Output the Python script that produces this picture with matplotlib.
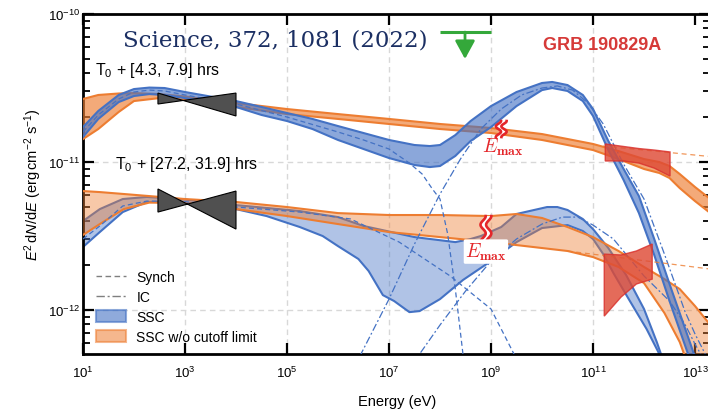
import numpy as np
import matplotlib
matplotlib.use('Agg')
import matplotlib.pyplot as plt
from matplotlib.patches import Patch
from matplotlib.lines import Line2D
import matplotlib.transforms as mtransforms

plt.rcParams['font.family'] = ['Liberation Sans', 'DejaVu Sans']
plt.rcParams['mathtext.fontset'] = 'custom'
plt.rcParams['mathtext.rm'] = 'Liberation Sans'
plt.rcParams['mathtext.it'] = 'Liberation Sans:italic'
plt.rcParams['mathtext.bf'] = 'Liberation Sans:bold'

# ---------------- data: log10(E / eV), log10(E^2 dN/dE / erg cm^-2 s^-1) ----------------
# Epoch 1: T0 + [4.3, 7.9] hrs
UO_E  = [1.0, 1.3, 1.7, 2.0, 2.5, 3.0, 4.0, 5.0, 6.0, 7.0, 8.0, 9.0, 10.0, 11.0, 11.5, 12.0, 12.3, 12.5, 12.7, 13.0, 13.3]
UO_hi = [-10.574, -10.547, -10.537, -10.534, -10.541, -10.557, -10.601, -10.642, -10.676, -10.709, -10.743, -10.770, -10.811, -10.878, -10.926, -10.980, -11.000, -11.027, -11.081, -11.169, -11.250]
UO_lo = [-10.845, -10.777, -10.662, -10.588, -10.568, -10.581, -10.628, -10.676, -10.709, -10.743, -10.777, -10.804, -10.851, -10.919, -10.980, -11.047, -11.074, -11.108, -11.176, -11.264, -11.345]
UO_dash_E = [11.2, 13.3]
UO_dash_F = [-10.892, -10.963]

UB_E  = [1.0, 1.3, 1.7, 2.0, 2.3, 2.6, 3.0, 4.0, 4.5, 5.0, 5.5, 6.0, 6.5, 7.0, 7.5, 7.8, 8.0, 8.3, 8.6, 9.0, 9.5, 10.0, 10.2, 10.5, 10.8, 11.0, 11.3, 11.6, 11.9, 12.2, 12.5, 12.85, 13.0]
UB_hi = [-10.764, -10.655, -10.547, -10.507, -10.497, -10.500, -10.527, -10.588, -10.628, -10.669, -10.709, -10.757, -10.804, -10.851, -10.885, -10.892, -10.885, -10.818, -10.723, -10.622, -10.527, -10.466, -10.459, -10.480, -10.547, -10.642, -10.858, -11.047, -11.230, -11.520, -11.824, -12.169, -12.318]
UB_lo = [-10.831, -10.709, -10.595, -10.554, -10.541, -10.547, -10.568, -10.628, -10.682, -10.723, -10.777, -10.851, -10.912, -10.973, -11.020, -11.034, -11.027, -10.959, -10.858, -10.764, -10.622, -10.514, -10.500, -10.520, -10.588, -10.689, -10.919, -11.122, -11.345, -11.628, -11.939, -12.284, -12.432]

US_E = [1.0, 1.3, 1.7, 2.0, 2.3, 2.6, 3.0, 4.0, 5.0, 6.0, 6.5, 7.0, 7.4, 7.65, 7.85, 8.0, 8.15, 8.3, 8.45, 8.55]
US_F = [-10.797, -10.682, -10.574, -10.527, -10.514, -10.520, -10.547, -10.608, -10.696, -10.797, -10.851, -10.912, -11.007, -11.081, -11.182, -11.250, -11.486, -11.858, -12.297, -12.601]

UI_E = [6.3, 6.45, 7.0, 7.5, 8.0, 8.4, 8.8, 9.2, 9.6, 10.0, 10.3, 10.6, 10.9, 11.2, 11.6, 12.0, 12.4, 12.8, 13.0, 13.3]
UI_F = [-12.399, -12.297, -11.926, -11.554, -11.216, -10.980, -10.777, -10.642, -10.547, -10.500, -10.486, -10.514, -10.601, -10.743, -11.014, -11.250, -11.622, -12.007, -12.162, -12.365]

# Epoch 2: T0 + [27.2, 31.9] hrs
LO_E  = [1.0, 1.33, 1.8, 2.3, 3.0, 4.0, 5.0, 6.0, 7.0, 8.0, 9.0, 9.5, 10.0, 10.5, 11.0, 11.5, 12.0, 12.4, 12.7, 13.0, 13.3]
LO_hi = [-11.196, -11.203, -11.216, -11.230, -11.250, -11.270, -11.304, -11.345, -11.358, -11.358, -11.365, -11.351, -11.378, -11.439, -11.507, -11.601, -11.709, -11.791, -11.858, -11.973, -12.101]
LO_lo = [-11.493, -11.419, -11.318, -11.274, -11.277, -11.318, -11.365, -11.419, -11.473, -11.507, -11.541, -11.561, -11.581, -11.601, -11.642, -11.709, -11.818, -12.020, -12.216, -12.500, -12.804]
LO_dash_E = [10.5, 13.3]
LO_dash_F = [-11.601, -11.723]

LB_hi_E = [1.0, 1.33, 1.78, 2.25, 2.9, 4.0, 5.25, 6.0, 6.5, 7.5, 8.3, 8.6, 8.8, 9.2, 9.5, 10.1, 10.3, 10.5, 10.8, 11.0, 11.3, 11.65, 12.0, 12.25, 12.4]
LB_hi_F = [-11.399, -11.318, -11.250, -11.236, -11.250, -11.291, -11.331, -11.372, -11.432, -11.507, -11.541, -11.520, -11.500, -11.439, -11.351, -11.304, -11.304, -11.324, -11.385, -11.453, -11.581, -11.764, -11.993, -12.216, -12.365]
LB_lo_E = [1.0, 1.33, 1.78, 2.25, 2.9, 4.0, 4.6, 5.25, 5.7, 6.0, 6.4, 6.6, 6.88, 7.1, 7.4, 7.6, 8.0, 8.45, 9.0, 9.5, 10.0, 10.5, 10.8, 11.0, 11.2, 11.4, 11.7, 12.05, 12.3, 12.4]
LB_lo_F = [-11.574, -11.473, -11.338, -11.270, -11.270, -11.318, -11.365, -11.439, -11.500, -11.568, -11.655, -11.736, -11.899, -11.939, -12.014, -12.007, -11.926, -11.797, -11.669, -11.541, -11.446, -11.426, -11.466, -11.520, -11.622, -11.750, -11.926, -12.128, -12.297, -12.365]

LS_E = [1.0, 1.33, 1.78, 2.25, 2.9, 4.0, 5.25, 6.25, 7.2, 8.2, 9.0, 9.45, 9.6]
LS_F = [-11.520, -11.432, -11.297, -11.264, -11.264, -11.304, -11.338, -11.385, -11.541, -11.770, -11.993, -12.297, -12.432]

LI_E = [7.4, 7.6, 8.0, 8.5, 9.0, 9.5, 10.0, 10.4, 10.7, 11.0, 11.4, 12.0, 12.5, 12.8, 13.0, 13.3]
LI_F = [-12.466, -12.297, -12.101, -11.872, -11.669, -11.520, -11.419, -11.372, -11.372, -11.426, -11.520, -11.770, -11.939, -12.095, -12.230, -12.412]

# X-ray bowties (Swift-XRT): edges [E_left, E_right], two power-law lines each
XRT_E = [2.47, 4.0]
XRT1_a = [-10.534, -10.689]
XRT1_b = [-10.608, -10.534]
XRT2_a = [-11.182, -11.453]
XRT2_b = [-11.338, -11.196]

# TeV bowties (H.E.S.S.)
HESS1_E = [11.24, 11.6, 11.9, 12.2, 12.51]
HESS1_top = [-10.878, -10.895, -10.909, -10.919, -10.932]
HESS1_bot = [-10.993, -10.993, -11.007, -11.041, -11.095]
HESS2_E = [11.22, 11.55, 11.85, 12.16]
HESS2_top = [-11.622, -11.628, -11.601, -11.554]
HESS2_bot = [-12.041, -11.912, -11.824, -11.791]

# Fermi-LAT upper limit
UL_E = [8.0, 9.0]
UL_center_E = 8.49
UL_F = -10.122
UL_tip_F = -10.304

# E_max markers: (log E, log F)
EMAX1 = (9.2, -10.777)
EMAX2 = (8.9, -11.453)
EMAX1_txt = (9.22, -10.895)
EMAX2_txt = (8.9, -11.605)

xticks_exp = [1, 3, 5, 7, 9, 11, 13]
yticks_exp = [-12, -11, -10]

# ---------------- styling ----------------
BLUE = '#4472c4'
ORANGE = '#ed7d31'
GREEN = '#34a83a'
NAVY = '#1b2f63'
EMAXRED = '#e4262a'

fig = plt.figure(figsize=(7.08, 4.10), dpi=100)
ax = fig.add_axes([0.1172, 0.1341, 1.0033 - 0.1172, 0.8293])
ax.set_xscale('log')
ax.set_yscale('log')
ax.set_xlim(10**1, 10**13.3)
ax.set_ylim(10**-12.297, 10**-10)

def p(a):
    return 10.0**np.asarray(a, dtype=float)

def band(e_hi, f_hi, e_lo, f_lo, color, alpha, z):
    xs = np.concatenate([e_hi, np.asarray(e_lo)[::-1]])
    ys = np.concatenate([f_hi, np.asarray(f_lo)[::-1]])
    ax.fill(p(xs), p(ys), color=color, alpha=alpha, lw=0, zorder=z)
    ax.plot(p(e_hi), p(f_hi), color=color, lw=1.5, zorder=z + 0.2)
    ax.plot(p(e_lo), p(f_lo), color=color, lw=1.5, zorder=z + 0.2)

# grid
for e in xticks_exp[1:-1]:
    ax.axvline(10.0**e, color='#d8d8d8', lw=1.0, ls=(0, (4, 3)), zorder=0)
for e in [-12, -11]:
    ax.axhline(10.0**e, color='#d8d8d8', lw=1.0, ls=(0, (4, 3)), zorder=0)

# bands
band(LB_hi_E, LB_hi_F, LB_lo_E, LB_lo_F, BLUE, 0.42, 2)
band(LO_E, LO_hi, LO_E, LO_lo, ORANGE, 0.42, 3)
band(UO_E, UO_hi, UO_E, UO_lo, ORANGE, 0.65, 3)
band(UB_E, UB_hi, UB_E, UB_lo, BLUE, 0.62, 4)

# model components
ax.plot(p(US_E), p(US_F), color=BLUE, lw=0.9, ls=(0, (4, 2.5)), zorder=5)
ax.plot(p(LS_E), p(LS_F), color=BLUE, lw=0.9, ls=(0, (4, 2.5)), zorder=5)
ax.plot(p(UI_E), p(UI_F), color=BLUE, lw=0.9, ls=(0, (6, 2, 1.5, 2)), zorder=5)
ax.plot(p(LI_E), p(LI_F), color=BLUE, lw=0.9, ls=(0, (6, 2, 1.5, 2)), zorder=5)
ax.plot(p(UO_dash_E), p(UO_dash_F), color=ORANGE, lw=0.9, ls=(0, (4, 3)), alpha=0.8, zorder=5)
ax.plot(p(LO_dash_E), p(LO_dash_F), color=ORANGE, lw=0.9, ls=(0, (4, 3)), alpha=0.8, zorder=5)

# XRT bowties
for fa, fb in [(XRT1_a, XRT1_b), (XRT2_a, XRT2_b)]:
    xs = [XRT_E[0], XRT_E[1], XRT_E[1], XRT_E[0]]
    ys = [fa[0], fa[1], fb[1], fb[0]]
    ax.fill(p(xs), p(ys), facecolor='#505050', edgecolor='black', lw=0.8, zorder=6)

# H.E.S.S. bowties
for e, t, b in [(HESS1_E, HESS1_top, HESS1_bot), (HESS2_E, HESS2_top, HESS2_bot)]:
    xs = np.concatenate([e, e[::-1]])
    ys = np.concatenate([t, b[::-1]])
    ax.fill(p(xs), p(ys), facecolor='#de4b36', edgecolor='#d9302c', alpha=0.82, lw=1.0, zorder=6)

# Fermi-LAT UL
ax.plot(p(UL_E), p([UL_F, UL_F]), color=GREEN, lw=2.2, zorder=7, solid_capstyle='butt')
ax.annotate('', xy=(10**UL_center_E, 10**UL_tip_F), xytext=(10**UL_center_E, 10**UL_F),
            arrowprops=dict(arrowstyle='-|>,head_width=0.3,head_length=0.55', color=GREEN,
                            lw=2.0, shrinkA=0, shrinkB=0, mutation_scale=20), zorder=7)

# E_max markers
def squiggle(le, lf, height):
    t = np.linspace(-0.5, 0.5, 80)
    dy = -t * height
    dx = 2.6 * np.sin(2 * np.pi * 1.5 * t)
    tr = mtransforms.IdentityTransform() + mtransforms.ScaledTranslation(10**le, 10**lf, ax.transData)
    gap = 2.8
    ax.fill(np.concatenate([dx - gap, (dx + gap)[::-1]]), np.concatenate([dy, dy[::-1]]),
            color='white', transform=tr, zorder=8, lw=0)
    ax.plot(dx - gap, dy, color=EMAXRED, lw=1.9, transform=tr, zorder=9)
    ax.plot(dx + gap, dy, color=EMAXRED, lw=1.9, transform=tr, zorder=9)

squiggle(*EMAX1, 16)
squiggle(*EMAX2, 26)
ax.text(10**EMAX1_txt[0], 10**EMAX1_txt[1], r'$E_{\mathbf{max}}$', color=EMAXRED, fontsize=14,
        math_fontfamily='cm', ha='center', va='center', zorder=9)
ax.text(10**EMAX2_txt[0], 10**EMAX2_txt[1], r'$E_{\mathbf{max}}$', color=EMAXRED, fontsize=14,
        math_fontfamily='cm', ha='center', va='center', zorder=9,
        bbox=dict(boxstyle='round,pad=0.08', fc='white', ec='none'))

# texts
ax.text(10**1.78, 10**-10.17, 'Science, 372, 1081 (2022)', family='DejaVu Serif', fontsize=16.5,
        color=NAVY, ha='left', va='center', zorder=10)
ax.text(10**10.02, 10**-10.205, 'GRB 190829A', fontsize=13, fontweight='bold', color='#d63a38',
        ha='left', va='center', zorder=10)
ax.text(10**1.235, 10**-10.372, r'T$_0$ + [4.3, 7.9] hrs', fontsize=11.5, ha='left', va='center', zorder=10)
ax.text(10**1.627, 10**-11.007, r'T$_0$ + [27.2, 31.9] hrs', fontsize=11.5, ha='left', va='center', zorder=10)

# legend
handles = [
    Line2D([], [], color='#7f7f7f', lw=1.0, ls=(0, (4, 2.5))),
    Line2D([], [], color='#7f7f7f', lw=1.0, ls=(0, (6, 2, 1.5, 2))),
    Patch(facecolor=BLUE, edgecolor=BLUE, alpha=0.6, lw=1.5),
    Patch(facecolor=ORANGE, edgecolor=ORANGE, alpha=0.55, lw=1.5),
]
labels = ['Synch', 'IC', 'SSC', 'SSC w/o cutoff limit']
ax.legend(handles, labels, loc='lower left', bbox_to_anchor=(0.02, 0.03), frameon=False,
          fontsize=10, handlelength=2.2, handleheight=0.9, handletextpad=0.75,
          labelspacing=0.42, borderpad=0, borderaxespad=0)

# axes styling
ax.set_xticks([10.0**e for e in xticks_exp], [r'$10^{%d}$' % e for e in xticks_exp])
ax.xaxis.set_minor_locator(matplotlib.ticker.NullLocator())
ax.set_yticks([10.0**e for e in yticks_exp], [r'$10^{%d}$' % e for e in yticks_exp])
ax.yaxis.set_minor_locator(matplotlib.ticker.LogLocator(base=10, subs=np.arange(2, 10)))
ax.yaxis.set_minor_formatter(matplotlib.ticker.NullFormatter())
ax.tick_params(which='both', direction='in', top=True, right=True, labelsize=9.5)
ax.tick_params(which='major', length=8, width=1.6)
ax.tick_params(which='minor', length=5, width=1.3)
ax.tick_params(axis='x', pad=8)
ax.tick_params(axis='y', pad=2)
for s in ax.spines.values():
    s.set_linewidth(2.0)

ax.set_xlabel('Energy (eV)', fontsize=10.5, labelpad=10)
ax.set_ylabel(r'$E^2\,$d$N/$d$E$ (erg$\,$cm$^{-2}$ s$^{-1}$)', fontsize=10.5, labelpad=3)

fig.savefig('out.png', dpi=100)
